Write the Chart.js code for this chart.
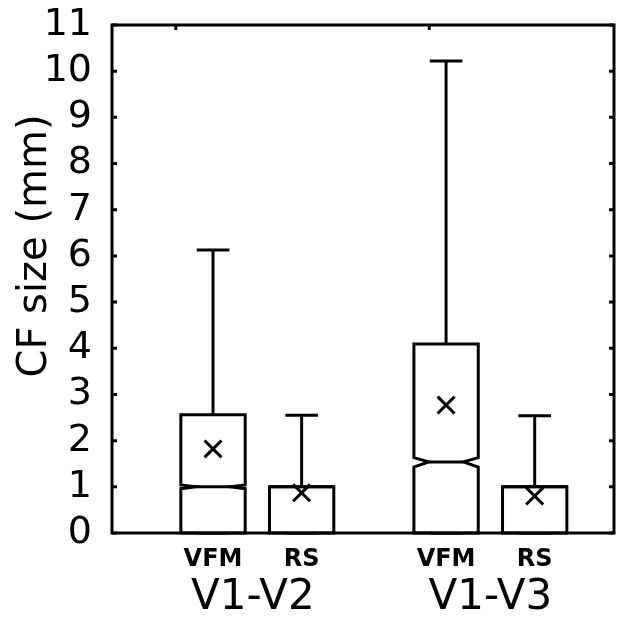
<!DOCTYPE html>
<html>
<head>
<meta charset="utf-8">
<script src="https://cdn.jsdelivr.net/npm/chart.js@4/dist/chart.umd.min.js"></script>
<style>
  html, body { margin: 0; padding: 0; background: #fff; overflow: hidden; }
  #wrap { width: 629px; height: 618px; position: relative; }
  canvas { display: block; }
</style>
</head>
<body>
<div id="wrap"><canvas id="cfChart"></canvas></div>
<script>
// Données
const categories = ["VFM", "RS", "VFM", "RS"];
const positions = [1, 2, 3.63, 4.63];
const groups = ["V1-V2", "V1-V3"];
const groupPositions = [1.45, 4.13];

const whiskerLow = [0, 0, 0, 0];
const q1 = [0, 0, 0, 0];
const median = [1.0, 1.0, 1.54, 1.0];
const notchLow = [0.96, 1.0, 1.43, 1.0];
const notchHigh = [1.04, 1.0, 1.63, 1.0];
const q3 = [2.56, 1.0, 4.09, 1.0];
const whiskerHigh = [6.13, 2.55, 10.22, 2.54];
const means = [1.82, 0.87, 2.77, 0.80];

const yTicks = [0, 1, 2, 3, 4, 5, 6, 7, 8, 9, 10, 11];
const topTicks = [0.58, 3.44];

const BOX_HALF = 0.363;   // demi-largeur de boîte (unités x)
const CAP_HALF = 0.184;   // demi-largeur des moustaches
const LW = 3;

// Boîtes à encoches, dessinées avec les échelles du graphique
const boxPlugin = {
  id: "boxes",
  beforeDatasetsDraw(chart) {
    const { ctx, scales: { x, y } } = chart;
    ctx.save();
    ctx.strokeStyle = "#000";
    ctx.lineWidth = LW;
    ctx.lineJoin = "miter";
    positions.forEach((p, i) => {
      const L = x.getPixelForValue(p - BOX_HALF);
      const R = x.getPixelForValue(p + BOX_HALF);
      const C = x.getPixelForValue(p);
      const ind = (R - L) * 0.23;
      const yQ1 = y.getPixelForValue(q1[i]);
      const yQ3 = y.getPixelForValue(q3[i]);
      const yMed = y.getPixelForValue(median[i]);
      const yNL = y.getPixelForValue(notchLow[i]);
      const yNH = y.getPixelForValue(notchHigh[i]);
      const notched = notchHigh[i] > notchLow[i];

      // whiskers
      const cl = x.getPixelForValue(p - CAP_HALF);
      const cr = x.getPixelForValue(p + CAP_HALF);
      const yHi = y.getPixelForValue(whiskerHigh[i]);
      const yLo = y.getPixelForValue(whiskerLow[i]);
      ctx.beginPath();
      ctx.moveTo(C, yQ3); ctx.lineTo(C, yHi);
      ctx.moveTo(cl, yHi); ctx.lineTo(cr, yHi);
      ctx.moveTo(C, yQ1); ctx.lineTo(C, yLo);
      ctx.moveTo(cl, yLo); ctx.lineTo(cr, yLo);
      ctx.stroke();

      // box
      ctx.beginPath();
      if (notched) {
        ctx.moveTo(L, yQ1);
        ctx.lineTo(L, yNL);
        ctx.lineTo(L + ind, yMed);
        ctx.lineTo(L, yNH);
        ctx.lineTo(L, yQ3);
        ctx.lineTo(R, yQ3);
        ctx.lineTo(R, yNH);
        ctx.lineTo(R - ind, yMed);
        ctx.lineTo(R, yNL);
        ctx.lineTo(R, yQ1);
        ctx.closePath();
        ctx.fillStyle = "#fff";
        ctx.fill();
        ctx.stroke();
        ctx.beginPath();
        ctx.moveTo(L + ind, yMed); ctx.lineTo(R - ind, yMed);
        ctx.stroke();
      } else {
        ctx.rect(L, yQ3, R - L, yQ1 - yQ3);
        ctx.fillStyle = "#fff";
        ctx.fill();
        ctx.stroke();
        ctx.beginPath();
        ctx.moveTo(L, yMed); ctx.lineTo(R, yMed);
        ctx.stroke();
      }
    });
    ctx.restore();
  },
  afterDraw(chart) {
    const { ctx, chartArea: a, scales: { x, y } } = chart;
    ctx.save();
    ctx.strokeStyle = "#000";
    ctx.lineWidth = LW;
    ctx.strokeRect(a.left, a.top, a.right - a.left, a.bottom - a.top);

    // graduations intérieures
    ctx.beginPath();
    yTicks.forEach(v => {
      const py = y.getPixelForValue(v);
      ctx.moveTo(a.left, py); ctx.lineTo(a.left + 5, py);
      ctx.moveTo(a.right, py); ctx.lineTo(a.right - 5, py);
    });
    topTicks.forEach(v => {
      const px = x.getPixelForValue(v);
      ctx.moveTo(px, a.top); ctx.lineTo(px, a.top + 5);
    });
    ctx.stroke();

    // étiquettes x
    ctx.fillStyle = "#000";
    ctx.textAlign = "center";
    ctx.textBaseline = "alphabetic";
    ctx.font = "bold 24px 'DejaVu Sans'";
    categories.forEach((c, i) => {
      ctx.fillText(c, x.getPixelForValue(positions[i]), a.bottom + 33);
    });
    ctx.font = "42px 'DejaVu Sans'";
    groups.forEach((g, i) => {
      ctx.fillText(g, x.getPixelForValue(groupPositions[i]), a.bottom + 76);
    });

    // titre y
    ctx.translate(46, 246);
    ctx.rotate(-Math.PI / 2);
    ctx.font = "40px 'DejaVu Sans'";
    ctx.fillText("CF size (mm)", 0, 0);
    ctx.restore();
  }
};

const ctxCF = document.getElementById("cfChart");
new Chart(ctxCF, {
  type: "scatter",
  data: {
    datasets: [{
      label: "Moyenne",
      data: positions.map((p, i) => ({ x: p, y: means[i] })),
      pointStyle: "crossRot",
      pointRadius: 12,
      borderColor: "#000",
      backgroundColor: "#000",
      borderWidth: 3
    }]
  },
  options: {
    responsive: true,
    maintainAspectRatio: false,
    animation: false,
    layout: { padding: { top: 25, right: 10, bottom: 85, left: 0 } },
    plugins: { legend: { display: false }, tooltip: { enabled: false } },
    scales: {
      x: { type: "linear", min: -0.14, max: 5.525, display: false },
      y: {
        min: 0,
        max: 11,
        afterFit: s => { s.width = 112; s.paddingTop = 0; s.paddingBottom = 0; },
        afterBuildTicks: s => { s.ticks = yTicks.map(v => ({ value: v })); },
        ticks: {
          color: "#000",
          padding: 12,
          autoSkip: false,
          font: { family: "DejaVu Sans", size: 38 }
        },
        grid: { display: false },
        border: { display: false }
      }
    }
  },
  plugins: [boxPlugin]
});
</script>
</body>
</html>
